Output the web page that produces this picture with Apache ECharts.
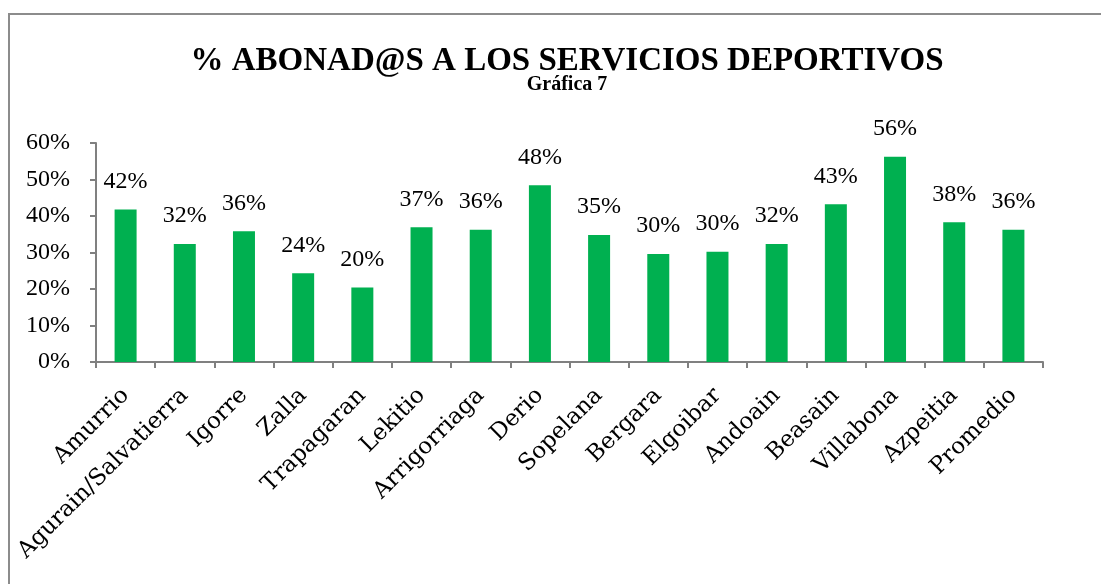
<!DOCTYPE html>
<html>
<head>
<meta charset="utf-8">
<script src="https://cdn.jsdelivr.net/npm/echarts@6/dist/echarts.min.js"></script>
<style>
  html, body { margin: 0; padding: 0; background: #fff; }
  #frame { position: absolute; left: 8px; top: 13px; width: 1110px; height: 600px;
           border: 2px solid #8c8c8c; box-sizing: border-box; }
  #main { position: absolute; left: 0; top: 0; width: 1101px; height: 584px; }
</style>
</head>
<body>
<div id="frame"></div>
<div id="main"></div>
<script>
// municipios
var categories = ['Amurrio', 'Agurain/Salvatierra', 'Igorre', 'Zalla', 'Trapagaran', 'Lekitio',
  'Arrigorriaga', 'Derio', 'Sopelana', 'Bergara', 'Elgoibar', 'Andoain', 'Beasain',
  'Villabona', 'Azpeitia', 'Promedio'];
// % abonados
var abonados = [0.418, 0.323, 0.358, 0.243, 0.204, 0.369, 0.362, 0.484, 0.348, 0.296,
  0.302, 0.323, 0.432, 0.562, 0.383, 0.362];
var yTicks = [0, 0.1, 0.2, 0.3, 0.4, 0.5, 0.6];

var serif = '"Liberation Serif", "DejaVu Serif", serif';
var wideSerif = '"DejaVu Serif", serif';

var myChart = echarts.init(document.getElementById('main'));
var option = {
  animation: false,
  title: {
    text: '% ABONAD@S A LOS SERVICIOS DEPORTIVOS',
    subtext: 'Gráfica 7',
    left: 562,
    textAlign: 'center',
    top: 40,
    itemGap: -3,
    textStyle: { fontFamily: serif, fontWeight: 'bold', fontSize: 33, color: '#000' },
    subtextStyle: { fontFamily: serif, fontWeight: 'bold', fontSize: 20, color: '#000' }
  },
  grid: { left: 96, right: 58, top: 143, bottom: 222, containLabel: false },
  xAxis: {
    type: 'category',
    data: categories,
    axisLine: { lineStyle: { color: '#808080', width: 2 } },
    axisTick: { show: true, alignWithLabel: false, length: 6, lineStyle: { color: '#808080', width: 2 } },
    axisLabel: { interval: 0, rotate: 45, margin: 30, fontFamily: wideSerif, fontSize: 23, color: '#000' }
  },
  yAxis: {
    type: 'value',
    min: yTicks[0],
    max: yTicks[yTicks.length - 1],
    interval: 0.1,
    splitLine: { show: false },
    axisLine: { show: true, lineStyle: { color: '#808080', width: 2 } },
    axisTick: { show: true, length: 6, lineStyle: { color: '#808080', width: 2 } },
    axisLabel: {
      margin: 26, fontFamily: serif, fontSize: 24, color: '#000',
      formatter: function (v) { return Math.round(v * 100) + '%'; }
    }
  },
  series: [{
    type: 'bar',
    data: abonados,
    barWidth: 22,
    itemStyle: { color: '#00B050' },
    label: {
      show: true, position: 'top', distance: 16,
      fontFamily: serif, fontSize: 24, color: '#000',
      formatter: function (p) { return Math.round(p.value * 100) + '%'; }
    }
  }]
};
myChart.setOption(option);
</script>
</body>
</html>
